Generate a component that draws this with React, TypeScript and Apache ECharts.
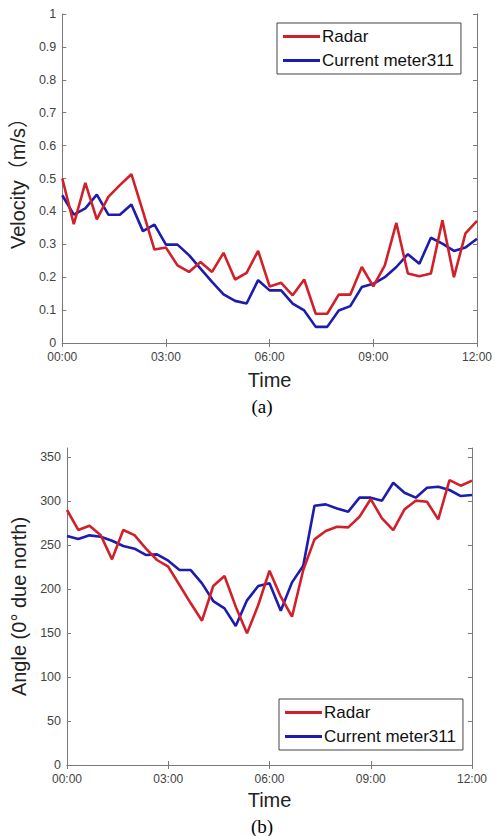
import React, { useEffect, useRef } from "react";
import * as echarts from "echarts";

const times = [
  "00:00", "00:20", "00:40", "01:00", "01:20", "01:40", "02:00", "02:20", "02:40",
  "03:00", "03:20", "03:40", "04:00", "04:20", "04:40", "05:00", "05:20", "05:40",
  "06:00", "06:20", "06:40", "07:00", "07:20", "07:40", "08:00", "08:20", "08:40",
  "09:00", "09:20", "09:40", "10:00", "10:20", "10:40", "11:00", "11:20", "11:40",
  "12:00",
];

const seriesNames = ["Radar", "Current meter311"];

const radarVelocity = [
  0.5, 0.361, 0.487, 0.376, 0.444, 0.48, 0.513, 0.4, 0.284, 0.29,
  0.236, 0.216, 0.246, 0.216, 0.274, 0.193, 0.213, 0.28, 0.172, 0.183,
  0.145, 0.193, 0.089, 0.089, 0.147, 0.147, 0.231, 0.172, 0.236, 0.365,
  0.211, 0.203, 0.211, 0.373, 0.2, 0.333, 0.371,
];

const meterVelocity = [
  0.449, 0.39, 0.409, 0.451, 0.39, 0.39, 0.421, 0.34, 0.36, 0.299,
  0.299, 0.267, 0.226, 0.186, 0.148, 0.128, 0.12, 0.191, 0.16, 0.16,
  0.12, 0.099, 0.049, 0.049, 0.099, 0.112, 0.17, 0.18, 0.2, 0.231,
  0.27, 0.241, 0.32, 0.302, 0.28, 0.29, 0.317,
];

const radarAngle = [
  289.6, 266.9, 271.8, 261, 233.5, 266.9, 261, 246, 232.8, 225.2,
  204.4, 183.6, 163.9, 203.3, 214.6, 179.8, 149.5, 181.7, 220.7, 191.1,
  168.4, 221.4, 256.2, 265.7, 270.6, 269.9, 282, 302, 280, 266.8,
  290.3, 300.2, 299, 279, 323.6, 317.2, 322.9,
];

const meterAngle = [
  260, 256.6, 260.8, 259.3, 254.7, 248.7, 245.6, 238.5, 239.2, 232,
  221.4, 221.4, 206.3, 186.2, 177.9, 157.8, 187, 203.3, 206.3, 175.2,
  207.4, 226.3, 294.5, 296, 291.4, 287.7, 303.6, 303.6, 300.2, 320.6,
  309.2, 303.6, 314.9, 316, 312.3, 305.4, 306.6,
];

const velocityAxis = { min: 0, max: 1, interval: 0.1, showMax: true, name: "Velocity（m/s）" };
const angleAxis = { min: 0, max: 360, interval: 50, showMax: false, name: "Angle (0° due north)" };
const xAxisName = "Time";
const captions = ["(a)", "(b)"];

const FONT = '"Liberation Sans", Arial, "Noto Sans CJK SC", sans-serif';
const RED = "#d2202a";
const BLUE = "#1c1cae";
const FRAME = "#7a7a7a";

export default function App() {
  const ref = useRef<HTMLDivElement>(null);

  useEffect(() => {
    if (!ref.current) return;
    const chart = echarts.init(ref.current, undefined, { renderer: "svg" });

    const tick = { show: true, inside: true, length: 4, interval: 8, lineStyle: { color: FRAME } };
    const axLine = { show: true, lineStyle: { color: FRAME, width: 1 } };

    const makeX = (gridIndex: number, nameGap: number) => [
      {
        type: "category",
        gridIndex,
        data: times,
        boundaryGap: false,
        position: "bottom",
        axisLine: axLine,
        axisTick: tick,
        axisLabel: { interval: 8, fontSize: 12, color: "#444", fontFamily: FONT, margin: 8 },
        splitLine: { show: false },
        name: xAxisName,
        nameLocation: "middle",
        nameGap,
        nameTextStyle: { fontSize: 20, color: "#222", fontFamily: FONT },
      },
      {
        type: "category",
        gridIndex,
        data: times,
        boundaryGap: false,
        position: "top",
        axisLine: axLine,
        axisTick: tick,
        axisLabel: { show: false },
        splitLine: { show: false },
      },
    ];

    const makeY = (gridIndex: number, ax: any, nameGap: number) => [
      {
        type: "value",
        gridIndex,
        min: ax.min,
        max: ax.max,
        interval: ax.interval,
        position: "left",
        axisLine: axLine,
        axisTick: { show: true, inside: true, length: 4, lineStyle: { color: FRAME } },
        axisLabel: { fontSize: 12.5, color: "#444", fontFamily: FONT, margin: 6, showMaxLabel: ax.showMax },
        splitLine: { show: false },
        name: ax.name,
        nameLocation: "middle",
        nameGap,
        nameRotate: 90,
        nameTextStyle: { fontSize: 20, color: "#222", fontFamily: FONT },
      },
      {
        type: "value",
        gridIndex,
        min: ax.min,
        max: ax.max,
        interval: ax.interval,
        position: "right",
        axisLine: axLine,
        axisTick: { show: true, inside: true, length: 4, lineStyle: { color: FRAME } },
        axisLabel: { show: false },
        splitLine: { show: false },
      },
    ];

    const line = (name: string, data: number[], color: string, xi: number, yi: number) => ({
      type: "line",
      name,
      data,
      xAxisIndex: xi,
      yAxisIndex: yi,
      symbol: "none",
      lineStyle: { color, width: 2.6 },
      itemStyle: { color },
      z: name === seriesNames[0] ? 3 : 2,
    });

    const legend = (left: number, top: number) => ({
      left,
      top,
      orient: "vertical",
      data: seriesNames,
      selectedMode: false,
      icon: "rect",
      backgroundColor: "#fff",
      borderColor: "#444",
      borderWidth: 1,
      borderRadius: 0,
      padding: [5, 7, 5, 6],
      itemGap: 7,
      itemWidth: 37,
      itemHeight: 3,
      textStyle: { fontSize: 17, color: "#111", fontFamily: FONT, padding: [0, 0, 0, -3] },
    });

    chart.setOption({
      animation: false,
      backgroundColor: "#fff",
      grid: [
        { left: 60, top: 14, width: 420, height: 329 },
        { left: 67, top: 448, width: 405, height: 317 },
      ],
      xAxis: [...makeX(0, 27), ...makeX(1, 25)],
      yAxis: [...makeY(0, velocityAxis, 28), ...makeY(1, angleAxis, 28)],
      legend: [legend(277, 23), legend(279, 699)],
      series: [
        line(seriesNames[0], radarVelocity, RED, 0, 0),
        line(seriesNames[1], meterVelocity, BLUE, 0, 0),
        line(seriesNames[0], radarAngle, RED, 2, 2),
        line(seriesNames[1], meterAngle, BLUE, 2, 2),
      ],
      graphic: [
        {
          type: "text",
          x: 262,
          y: 406,
          style: { text: captions[0], font: '19px "Liberation Serif", serif', fill: "#000", align: "center", verticalAlign: "middle", textAlign: "center", textVerticalAlign: "middle" },
        },
        {
          type: "text",
          x: 262,
          y: 826,
          style: { text: captions[1], font: '19px "Liberation Serif", serif', fill: "#000", align: "center", verticalAlign: "middle", textAlign: "center", textVerticalAlign: "middle" },
        },
      ],
    });

    return () => chart.dispose();
  }, []);

  return <div ref={ref} style={{ position: "fixed", left: 0, top: 0, width: 495, height: 836 }} />;
}
